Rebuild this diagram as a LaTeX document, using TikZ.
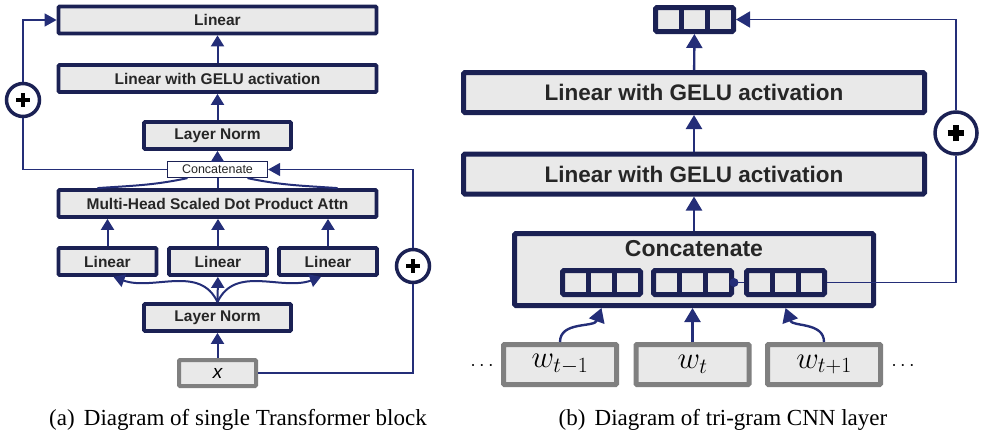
\documentclass[tikz,border=0pt]{standalone}
\usepackage{fix-cm}
\usepackage{fontspec}
\setmainfont{Liberation Serif}
\newfontfamily\arialfont{Liberation Sans}
\usetikzlibrary{arrows.meta}

\definecolor{boxc}{RGB}{27,33,84}
\definecolor{linkc}{RGB}{36,46,120}
\definecolor{boxfill}{RGB}{233,233,233}
\definecolor{wordc}{RGB}{128,128,128}
\definecolor{textc}{RGB}{38,38,38}

\tikzset{
  blockL/.style={draw=boxc, fill=boxfill, line width=3.8pt, rounded corners=1pt, minimum height=27pt, inner sep=0pt, text=textc, font=\arialfont\bfseries\fontsize{15.5}{18}\selectfont},
  blockR/.style={draw=boxc, fill=boxfill, line width=5pt, rounded corners=1.5pt, minimum width=461pt, minimum height=40pt, inner sep=0pt, text=textc, font=\arialfont\bfseries\fontsize{22.5}{26}\selectfont},
  catsmall/.style={draw=boxc, fill=white, line width=1.2pt, minimum width=100pt, minimum height=16pt, inner sep=0pt, text=textc, font=\arialfont\fontsize{12.5}{14}\selectfont},
  catbig/.style={draw=boxc, fill=boxfill, line width=5pt, rounded corners=1.5pt, minimum width=359pt, minimum height=72pt, inner sep=0pt},
  vecbox/.style={draw=boxc, fill=boxfill, line width=5pt, rounded corners=1.5pt, minimum width=78pt, minimum height=24pt, inner sep=0pt,
    path picture={\foreach \s in {-1,1} \draw[boxc, line width=4.5pt] ([xshift={\s*13pt}]path picture bounding box.north) -- ([xshift={\s*13pt}]path picture bounding box.south);}},
  inbox/.style={draw=wordc, fill=boxfill, line width=4pt, rounded corners=1pt, minimum width=77pt, minimum height=26pt, inner sep=0pt, text=black, font=\arialfont\fontsize{19}{20}\selectfont},
  wordbox/.style={draw=wordc, fill=boxfill, line width=5pt, rounded corners=1pt, minimum width=113pt, minimum height=40pt, inner sep=0pt, font=\fontsize{31}{34}\selectfont},
  plusnode/.style={circle, draw=boxc, fill=white, line width=3.5pt, minimum size=#1, inner sep=0pt,
    path picture={\draw[black, line width={0.12*#1}] ([xshift={-0.2*#1}]path picture bounding box.center) -- ([xshift={0.2*#1}]path picture bounding box.center) ([yshift={-0.2*#1}]path picture bounding box.center) -- ([yshift={0.2*#1}]path picture bounding box.center);}},
  linkL/.style={draw=linkc, line width=2pt, -{Triangle[width=13pt,length=11pt]}},
  plainL/.style={draw=linkc, line width=2pt},
  skipL/.style={draw=linkc, line width=1.5pt},
  linkR/.style={draw=linkc, line width=2.4pt, -{Triangle[width=16pt,length=14pt]}},
  skipR/.style={draw=linkc, line width=1.8pt},
  captext/.style={anchor=base, font=\fontsize{23}{26}\selectfont}
}

\begin{document}
\begin{tikzpicture}[x=1pt, y=-1pt]
\useasboundingbox (0,0) rectangle (981,434);

\node[blockL, minimum width=318pt] (lintop) at (217.5,20) {Linear};
\node[blockL, minimum width=318pt] (geluL) at (217.5,78.5) {Linear with GELU activation};
\node[blockL, minimum width=147pt] (normB) at (217.5,135.5) {Layer Norm};
\node[catsmall] (catL) at (217.5,169.5) {Concatenate};
\node[blockL, minimum width=318pt] (mha) at (217.5,203.5) {Multi-Head Scaled Dot Product Attn};
\foreach \i/\x in {1/107.5,2/218,3/328}
  \node[blockL, minimum width=98pt] (lin\i) at (\x,261.5) {Linear};
\node[blockL, minimum width=147pt] (normA) at (217.5,317.5) {Layer Norm};
\node[inbox] (xin) at (217.5,373) {\itshape x};
\node[plusnode=33pt] (plusL) at (23,100) {};
\node[plusnode=33pt] (plusX) at (413,266) {};

\draw[linkL] (xin) -- (normA);
\draw[linkL] (normA) -- (lin2);
\draw[linkL] (normA.north) to[out=115,in=-20] ([xshift=6pt]lin1.south);
\draw[linkL] (normA.north) to[out=65,in=200] ([xshift=-7pt]lin3.south);
\foreach \i in {1,2,3}
  \draw[linkL] (lin\i) -- (lin\i |- mha.south);
\draw[plainL] (mha) -- (catL);
\draw[plainL] ([xshift=-120pt]mha.north) to[out=4,in=192] ([xshift=-30pt]catL.south);
\draw[plainL] ([xshift=120pt]mha.north) to[out=176,in=-12] ([xshift=30pt]catL.south);
\draw[linkL] (catL) -- (normB);
\draw[linkL] (normB) -- (geluL);
\draw[linkL] (geluL) -- (lintop);
\draw[skipL] (catL.west) -| (plusL.south);
\draw[skipL, -{Triangle[width=13pt,length=12pt]}] (plusL.north) |- (lintop.west);
\draw[skipL] (xin.east) -| (plusX.south);
\draw[skipL, -{Triangle[width=13pt,length=12pt]}] (plusX.north) |- (catL.east);

\node[vecbox] (outvec) at (694.5,19.5) {};
\node[blockR] (geluB) at (694,92.5) {Linear with GELU activation};
\node[blockR] (geluA) at (694,174) {Linear with GELU activation};
\node[catbig] (catR) at (694,269.5) {};
\node[text=textc, font=\arialfont\bfseries\fontsize{23}{26}\selectfont] (catname) at (694,249) {Concatenate};
\foreach \n/\x in {vecA/601.5,vecB/692.5,vecC/785.5}
  \node[vecbox] (\n) at (\x,282.5) {};
\node[wordbox] (wA) at (560,364.5) {$w_{t-1}$};
\node[wordbox] (wB) at (692.5,364.5) {$w_{t}$};
\node[wordbox] (wC) at (824,364.5) {$w_{t+1}$};
\node[font=\fontsize{20}{22}\selectfont] (dotsL) at (482,366) {$\cdots$};
\node[font=\fontsize{20}{22}\selectfont] (dotsR) at (903,366) {$\cdots$};
\node[plusnode=42pt] (plusR) at (956,133) {};

\draw[linkR] (wA.north) to[out=90,in=-110] (catR.south -| vecA);
\draw[linkR] (wB) -- (wB |- catR.south);
\draw[linkR] (wC.north) to[out=90,in=-70] (catR.south -| vecC);
\draw[linkR] (catR) -- (geluA);
\draw[linkR] (geluA) -- (geluB);
\draw[linkR] (geluB) -- (outvec);
\fill[linkc] (vecB.east) circle (4.5pt);
\draw[skipR] (vecB.east) -- (vecC.west);
\draw[skipR] (vecC.east) -| (plusR.south);
\draw[skipR, -{Triangle[width=16pt,length=14pt]}] (plusR.north) |- (outvec.east);

\node[captext] (capA) at (238,425) {(a)\hspace{0.4em}Diagram of single Transformer block};
\node[captext] (capB) at (723,425) {(b)\hspace{0.4em}Diagram of tri-gram CNN layer};
\end{tikzpicture}
\end{document}
